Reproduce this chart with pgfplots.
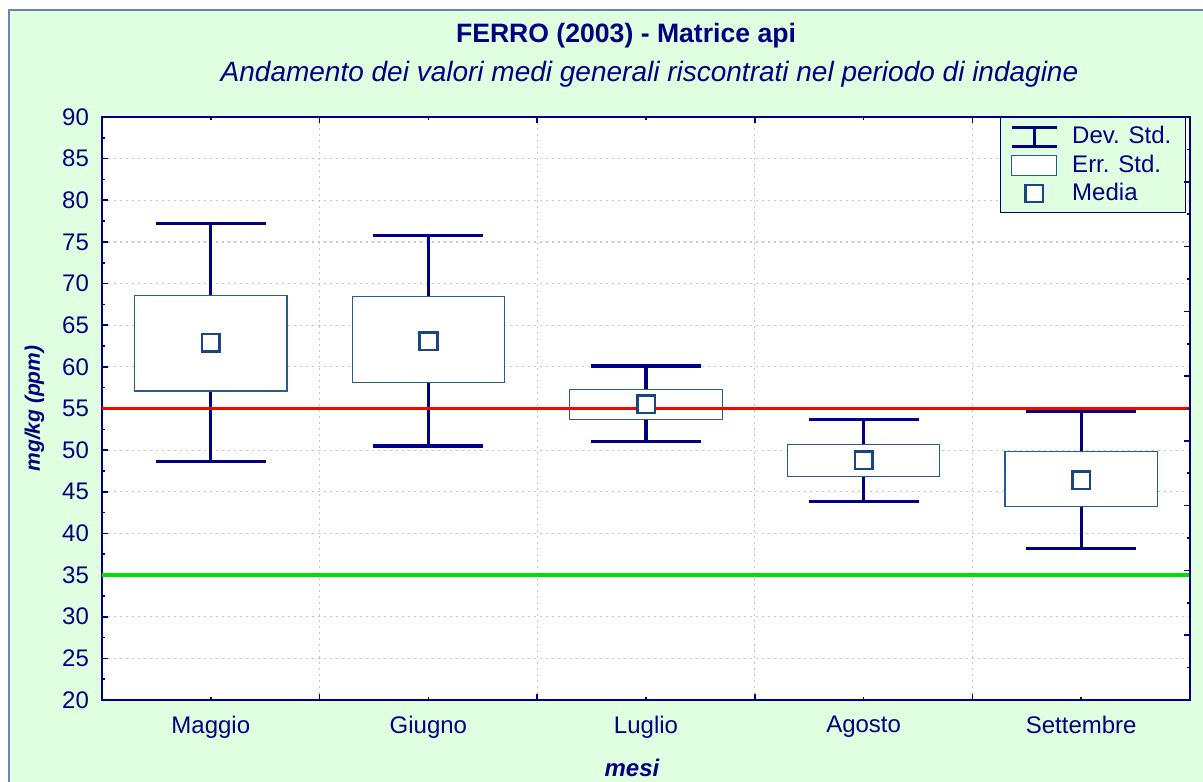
\documentclass[border=0pt]{standalone}
\usepackage{fontspec}
\setmainfont{Liberation Sans}
\usepackage{pgfplots}
\pgfplotsset{compat=1.18}
\definecolor{navyc}{RGB}{0,0,128}
\definecolor{bgc}{RGB}{224,255,224}
\definecolor{framec}{RGB}{110,130,185}
\definecolor{boxc}{RGB}{40,90,150}
\definecolor{meanc}{RGB}{25,70,130}
\definecolor{gridc}{RGB}{200,200,200}
\definecolor{redl}{RGB}{255,0,0}
\definecolor{greenl}{RGB}{0,225,0}
\newcommand\fs{\fontsize{12}{14.4}\selectfont}
\pgfplotsset{
  whisk/.style={forget plot, navyc, line width=1.6pt},
  caps/.style={forget plot, only marks, mark=-, mark size=27.5pt,
    mark options={navyc, line width=1.6pt}},
  errbox/.style={forget plot, draw=boxc, line width=0.6pt, fill=white}}

\begin{document}
\begin{tikzpicture}
  \useasboundingbox (-51pt,-40.5pt) rectangle (550.5pt,350pt);
  \fill[white] (-51pt,-40.5pt) rectangle (550.5pt,350pt);
  \fill[bgc] (-46.5pt,-41pt) rectangle (551pt,345pt);
  \draw[framec, line width=1pt] (-46.5pt,-41pt) -- (-46.5pt,345pt) -- (551pt,345pt);

  \begin{axis}[at={(0,0)}, anchor=south west,
    width=544pt, height=291.5pt, scale only axis,
    xmin=0.5, xmax=5.5, ymin=20, ymax=90,
    axis background/.style={fill=white},
    axis line style={navyc, line width=1pt},
    xtick={1.5,2.5,3.5,4.5}, xticklabels={},
    extra x ticks={1,2,3,4,5},
    extra x tick labels={Maggio,Giugno,Luglio,Agosto,Settembre},
    extra x tick style={grid=none, major tick length=1.5pt},
    xtick pos=both, ytick pos=left,
    ytick={20,25,...,90}, minor y tick num=1,
    xmajorgrids, ymajorgrids,
    grid style={gridc, line width=0.6pt, dash pattern=on 1pt off 2pt},
    tick align=inside, major tick length=3pt, minor tick length=1.5pt,
    tick style={navyc, line width=0.8pt},
    ticklabel style={font=\fs, text=navyc},
    /pgf/number format/assume math mode=true,
    yticklabel style={xshift=-3pt},
    xticklabel style={yshift=-4.5pt},
    legend style={at={(0.9963,1)}, anchor=north east, fill=bgc, draw=navyc,
      line width=0.6pt, font=\fs, text=navyc, inner xsep=5pt, inner ysep=2.5pt,
      row sep=0pt, column sep=5pt},
    legend cell align=left]

    % whiskers: mean +/- dev. std.
    \addplot[whisk] coordinates {(1,48.6) (1,77.2)};
    \addplot[whisk] coordinates {(2,50.5) (2,75.8)};
    \addplot[whisk] coordinates {(3,51.0) (3,60.1)};
    \addplot[whisk] coordinates {(4,43.8) (4,53.7)};
    \addplot[whisk] coordinates {(5,38.2) (5,54.6)};
    \addplot[caps] coordinates {(1,48.6) (1,77.2) (2,50.5) (2,75.8) (3,51.0) (3,60.1)
      (4,43.8) (4,53.7) (5,38.2) (5,54.6)};

    % boxes: mean +/- err. std.
    \addplot[errbox] coordinates {(0.65,57.1) (1.35,57.1) (1.35,68.6) (0.65,68.6)} -- cycle;
    \addplot[errbox] coordinates {(1.65,58.1) (2.35,58.1) (2.35,68.4) (1.65,68.4)} -- cycle;
    \addplot[errbox] coordinates {(2.65,53.7) (3.35,53.7) (3.35,57.3) (2.65,57.3)} -- cycle;
    \addplot[errbox] coordinates {(3.65,46.8) (4.35,46.8) (4.35,50.7) (3.65,50.7)} -- cycle;
    \addplot[errbox] coordinates {(4.65,43.2) (5.35,43.2) (5.35,49.8) (4.65,49.8)} -- cycle;

    % means
    \addplot[forget plot, only marks, mark=square*, mark size=4.4pt,
      mark options={draw=meanc, fill=white, line width=1.3pt}]
      coordinates {(1,62.9) (2,63.1) (3,55.5) (4,48.8) (5,46.4)};

    \addplot[forget plot, redl, line width=1.6pt] coordinates {(0.5,55) (5.5,55)};
    \addplot[forget plot, greenl, line width=1.6pt] coordinates {(0.5,35) (5.5,35)};

    \addlegendimage{legend image code/.code={
      \draw[navyc, line width=1.5pt] (0pt,4.75pt)--(22.5pt,4.75pt) (0pt,-4.75pt)--(22.5pt,-4.75pt)
        (11.25pt,-4.75pt)--(11.25pt,4.75pt);}}
    \addlegendentry{Dev. Std.}
    \addlegendimage{legend image code/.code={
      \draw[boxc, line width=0.6pt, fill=white] (0pt,-5pt) rectangle (22.5pt,5pt);}}
    \addlegendentry{Err. Std.}
    \addlegendimage{legend image code/.code={
      \draw[meanc, line width=1.3pt, fill=white] (6.95pt,-4.3pt) rectangle (15.55pt,4.3pt);}}
    \addlegendentry{Media}
  \end{axis}

  \begin{axis}[at={(0,0)}, anchor=south west,
    width=544pt, height=291.5pt, scale only axis,
    xmin=0, xmax=1, ymin=0, ymax=9,
    axis x line=none, axis y line*=right,
    axis line style={navyc, line width=1pt, -},
    ytick={0,...,9}, minor y tick num=1, yticklabels={},
    tick align=inside, major tick length=3pt, minor tick length=1.5pt,
    tick style={navyc, line width=0.8pt}]
  \end{axis}

  \node[anchor=base, text=navyc, font=\bfseries\fontsize{13.3}{16}\selectfont]
    at (262pt,328.5pt) {FERRO (2003) - Matrice api};
  \node[anchor=base, text=navyc, font=\itshape\fontsize{14}{17}\selectfont]
    at (273.75pt,309pt) {Andamento dei valori medi generali riscontrati nel periodo di indagine};
  \node[anchor=base, rotate=90, text=navyc, font=\bfseries\itshape\fontsize{10.5}{12.6}\selectfont]
    at (-31pt,145.75pt) {mg/kg (ppm)};
  \node[anchor=base, text=navyc, font=\bfseries\itshape\fs]
    at (265pt,-38pt) {mesi};
\end{tikzpicture}
\end{document}
